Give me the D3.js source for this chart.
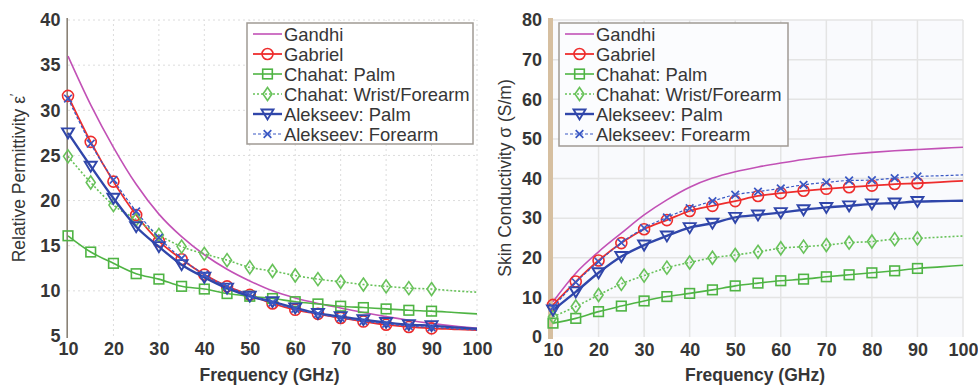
<!DOCTYPE html>
<html>
<head>
<meta charset="utf-8">
<script src="https://cdn.jsdelivr.net/npm/d3@7"></script>
<style>
  body { margin: 0; background: #fff; }
  text { font-family: "Liberation Sans", Arial, sans-serif; fill: #363636; }
</style>
</head>
<body>
<svg id="chart" width="978" height="388"></svg>
<script>
// frequencies (GHz) the curves are sampled at
const freqs = [10, 15, 20, 25, 30, 35, 40, 45, 50, 55, 60, 65, 70, 75, 80, 85, 90, 95, 100];
const seriesNames = ['Gandhi', 'Gabriel', 'Chahat: Palm', 'Chahat: Wrist/Forearm', 'Alekseev: Palm', 'Alekseev: Forearm'];

// relative permittivity
const permGandhi = [36.0, 30.6, 25.9, 21.8, 18.5, 16.0, 14.0, 12.4, 11.1, 10.0, 9.2, 8.6, 8.1, 7.6, 7.15, 6.75, 6.4, 6.1, 5.85];
const permGabriel = [31.6, 26.5, 22.1, 18.4, 15.5, 13.5, 11.8, 10.5, 9.55, 8.6, 7.9, 7.45, 7.0, 6.6, 6.25, 6.0, 5.85, 5.75, 5.65];
const permChahatPalm = [16.1, 14.3, 13.05, 11.9, 11.3, 10.5, 10.2, 9.7, 9.4, 9.15, 8.8, 8.55, 8.3, 8.15, 8.0, 7.85, 7.75, 7.6, 7.45];
const permChahatWrist = [24.9, 22.0, 19.5, 17.9, 16.2, 14.9, 14.1, 13.4, 12.6, 12.2, 11.7, 11.3, 11.0, 10.7, 10.5, 10.3, 10.2, 10.0, 9.85];
const permAlekPalm = [27.5, 23.8, 20.25, 17.1, 14.9, 12.9, 11.5, 10.3, 9.4, 8.8, 8.1, 7.5, 7.15, 6.8, 6.5, 6.25, 6.15, 5.95, 5.8];
const permAlekForearm = [31.3, 26.3, 22.3, 18.8, 15.9, 13.6, 11.8, 10.5, 9.55, 8.7, 8.0, 7.45, 7.0, 6.65, 6.35, 6.1, 5.95, 5.8, 5.65];

// skin conductivity (S/m)
const condGandhi = [8.9, 16.1, 21.5, 26.2, 30.8, 34.6, 37.8, 40.1, 41.7, 42.9, 43.9, 44.8, 45.5, 46.1, 46.6, 47.0, 47.3, 47.6, 47.9];
const condGabriel = [8.1, 14.0, 19.3, 23.7, 27.2, 29.5, 31.8, 33.1, 34.3, 35.6, 36.3, 36.9, 37.4, 37.8, 38.2, 38.6, 38.8, 39.1, 39.4];
const condChahatPalm = [3.5, 4.7, 6.4, 7.8, 9.1, 10.2, 11.0, 11.9, 12.9, 13.6, 14.2, 14.6, 15.2, 15.7, 16.2, 16.7, 17.3, 17.7, 18.1];
const condChahatWrist = [5.1, 7.7, 10.6, 13.4, 15.5, 17.5, 18.8, 20.0, 20.7, 21.5, 22.4, 22.8, 23.2, 23.8, 24.1, 24.7, 24.9, 25.2, 25.5];
const condAlekPalm = [6.8, 11.4, 16.2, 20.3, 23.2, 25.5, 27.6, 28.7, 30.2, 30.8, 31.4, 32.1, 32.7, 33.1, 33.6, 33.8, 34.2, 34.3, 34.4];
const condAlekForearm = [7.5, 13.8, 19.0, 23.8, 27.5, 30.2, 32.5, 34.3, 35.9, 36.7, 37.5, 38.4, 39.0, 39.5, 39.6, 40.1, 40.5, 40.7, 40.9];

const freqTicks = [10, 20, 30, 40, 50, 60, 70, 80, 90, 100];
const permTicks = [5, 10, 15, 20, 25, 30, 35, 40];
const condTicks = [0, 10, 20, 30, 40, 50, 60, 70, 80];
const lastMarkerFreq = 90;

const styles = [
  { color: '#c251b6', width: 1.6, dash: null, marker: null },
  { color: '#ee2d2d', width: 1.8, dash: null, marker: 'circle' },
  { color: '#4fb444', width: 1.6, dash: null, marker: 'square' },
  { color: '#68c25a', width: 1.6, dash: '2,2', marker: 'diamond' },
  { color: '#3046aa', width: 2.4, dash: null, marker: 'triangle' },
  { color: '#3a58c4', width: 1.2, dash: '3,2', marker: 'cross' },
];

const svg = d3.select('#chart');

function marker(g, type, color, x, y) {
  const m = g.append('g').attr('transform', 'translate(' + x + ',' + y + ')')
    .attr('fill', 'none').attr('stroke', color).attr('stroke-width', 1.6);
  if (type === 'circle') m.append('circle').attr('r', 5.5);
  if (type === 'square') m.append('rect').attr('x', -4.8).attr('y', -4.8).attr('width', 9.6).attr('height', 9.6);
  if (type === 'diamond') m.append('path').attr('d', 'M0,-6.5L4.5,0L0,6.5L-4.5,0Z');
  if (type === 'triangle') m.append('path').attr('d', 'M-6,-4.5L6,-4.5L0,5.5Z').attr('stroke-width', 1.9);
  if (type === 'cross') {
    m.append('path').attr('d', 'M-3.8,-3.8L3.8,3.8M-3.8,3.8L3.8,-3.8').attr('stroke-width', 1.7);
  }
}

function drawPanel(opt) {
  const x = d3.scaleLinear().domain([10, 100]).range(opt.xRange);
  const y = d3.scaleLinear().domain(opt.yDomain).range(opt.yRange);
  const g = svg.append('g');

  // background
  g.append('rect')
    .attr('x', opt.xRange[0]).attr('y', opt.yRange[1])
    .attr('width', opt.xRange[1] - opt.xRange[0])
    .attr('height', opt.yRange[0] - opt.yRange[1])
    .attr('fill', opt.bg);

  // grid
  const grid = g.append('g').attr('stroke', opt.gridColor).attr('stroke-width', opt.gridWidth)
    .attr('stroke-dasharray', opt.gridDash);
  grid.selectAll('.v').data(freqTicks.slice(1)).enter().append('line')
    .attr('x1', d => x(d)).attr('x2', d => x(d))
    .attr('y1', opt.yRange[0]).attr('y2', opt.yRange[1]);
  grid.selectAll('.h').data(opt.yTicks.slice(1)).enter().append('line')
    .attr('x1', opt.xRange[0]).attr('x2', opt.xRange[1])
    .attr('y1', d => y(d)).attr('y2', d => y(d));

  // y axis line
  g.append('rect')
    .attr('x', opt.xRange[0] - opt.axisWidth).attr('y', opt.yRange[1] - 2)
    .attr('width', opt.axisWidth).attr('height', opt.yRange[0] - opt.yRange[1] + 4)
    .attr('fill', opt.axisColor);

  // tick labels
  g.append('g').attr('transform', 'translate(' + (opt.xRange[0] - opt.axisWidth) + ',0)')
    .call(d3.axisLeft(y).tickValues(opt.yTicks).tickSize(0).tickPadding(6))
    .call(a => a.select('.domain').remove())
    .selectAll('text').attr('font-size', 18).attr('font-weight', 'bold')
    .attr('font-family', '"Liberation Sans", Arial, sans-serif').attr('fill', '#363636');
  g.append('g').attr('transform', 'translate(0,' + opt.yRange[0] + ')')
    .call(d3.axisBottom(x).tickValues(freqTicks).tickSize(0).tickPadding(6))
    .call(a => a.select('.domain').remove())
    .selectAll('text').attr('font-size', 18).attr('font-weight', 'bold')
    .attr('font-family', '"Liberation Sans", Arial, sans-serif').attr('fill', '#363636');

  // axis titles
  g.append('text').attr('x', (opt.xRange[0] + opt.xRange[1]) / 2 - 3).attr('y', 381)
    .attr('text-anchor', 'middle').attr('font-size', 17.5).attr('font-weight', 'bold')
    .text('Frequency (GHz)');
  const yt = g.append('text')
    .attr('transform', 'translate(' + opt.yTitleX + ',178) rotate(-90)')
    .attr('text-anchor', 'middle').attr('font-size', 17.5);
  yt.append('tspan').text(opt.yTitle);
  if (opt.yTitleSup) yt.append('tspan').attr('dy', -6).attr('font-size', 12).text(opt.yTitleSup);

  // series
  const line = d3.line().x(d => x(d.f)).y(d => y(d.v)).curve(d3.curveMonotoneX);
  opt.series.forEach((vals, i) => {
    const st = styles[i];
    const pts = freqs.map((f, k) => ({ f: f, v: vals[k] }));
    g.append('path').datum(pts).attr('d', line)
      .attr('fill', 'none').attr('stroke', st.color).attr('stroke-width', st.width)
      .attr('stroke-dasharray', st.dash);
    if (st.marker) {
      const mg = g.append('g');
      pts.filter(p => p.f <= lastMarkerFreq).forEach(p => marker(mg, st.marker, st.color, x(p.f), y(p.v)));
    }
  });

  // legend
  const lg = g.append('g');
  lg.append('rect').attr('x', opt.legend[0]).attr('y', opt.legend[1])
    .attr('width', opt.legend[2]).attr('height', opt.legend[3])
    .attr('fill', opt.legendBg).attr('stroke', '#a09a94').attr('stroke-width', 1.5);
  seriesNames.forEach((name, i) => {
    const st = styles[i];
    const cy = opt.legend[1] + 11 + i * 20;
    const lx = opt.legend[0] + 6;
    lg.append('line').attr('x1', lx).attr('x2', lx + 29).attr('y1', cy).attr('y2', cy)
      .attr('stroke', st.color).attr('stroke-width', st.width).attr('stroke-dasharray', st.dash);
    if (st.marker) marker(lg, st.marker, st.color, lx + 14.5, cy);
    lg.append('text').attr('x', lx + 31).attr('y', cy + 6.5).attr('font-size', 18.4).text(name);
  });
}

drawPanel({
  xRange: [68, 477], yDomain: [5, 40], yRange: [336, 20], yTicks: permTicks,
  bg: '#ffffff', gridColor: '#dcdcdc', gridWidth: 1, gridDash: '2,3',
  axisWidth: 1.6, axisColor: '#8a8276',
  yTitle: 'Relative Permittivity ε', yTitleSup: '′', yTitleX: 25,
  series: [permGandhi, permGabriel, permChahatPalm, permChahatWrist, permAlekPalm, permAlekForearm],
  legend: [247, 23, 226, 121], legendBg: '#ffffff'
});

drawPanel({
  xRange: [553, 963], yDomain: [0, 80], yRange: [337, 20], yTicks: condTicks,
  bg: '#f9fafd', gridColor: '#e4e4e4', gridWidth: 1.5, gridDash: null,
  axisWidth: 5, axisColor: '#d6bfa0',
  yTitle: 'Skin Conductivity σ (S/m)', yTitleSup: null, yTitleX: 511,
  series: [condGandhi, condGabriel, condChahatPalm, condChahatWrist, condAlekPalm, condAlekForearm],
  legend: [559, 23, 229, 123], legendBg: '#fbfcfe'
});
</script>
</body>
</html>
